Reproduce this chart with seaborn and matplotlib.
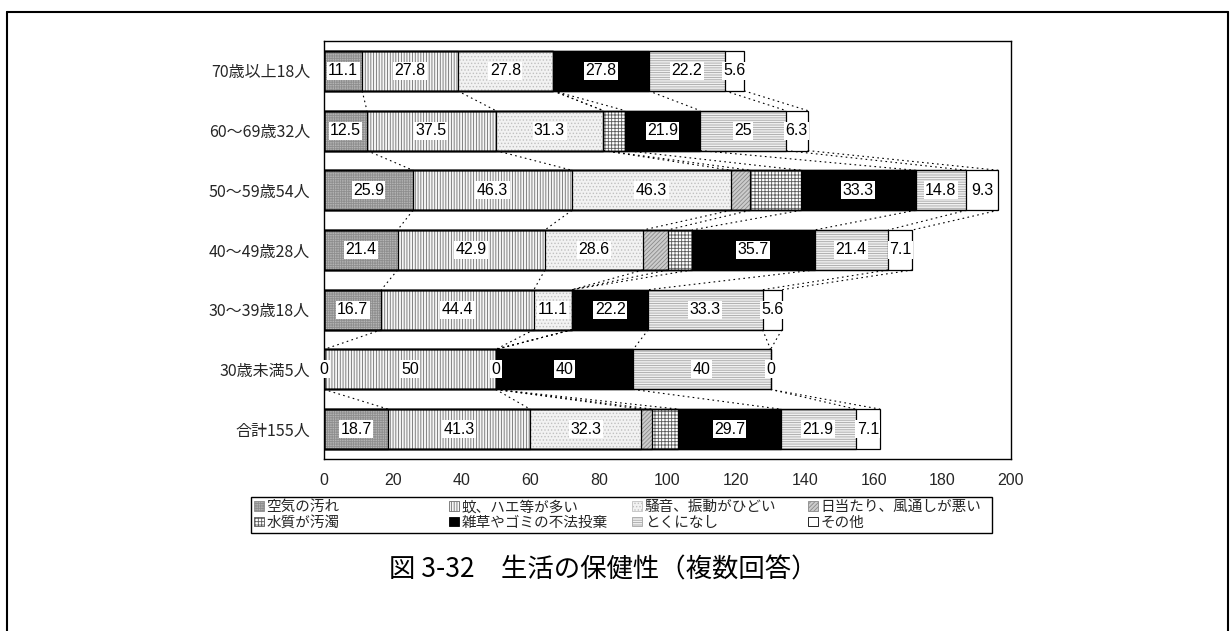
import numpy as np
import matplotlib
matplotlib.use("Agg")
import matplotlib.pyplot as plt
import matplotlib.patches as mpatches
from matplotlib.lines import Line2D
import seaborn as sns

# rows, top to bottom
groups = ['70歳以上18人', '60～69歳32人', '50～59歳54人', '40～49歳28人',
          '30～39歳18人', '30歳未満5人', '合計155人']

series_names = ['空気の汚れ', '蚊、ハエ等が多い', '騒音、振動がひどい', '日当たり、風通しが悪い',
                '水質が汚濁', '雑草やゴミの不法投棄', 'とくになし', 'その他']

air = [11.1, 12.5, 25.9, 21.4, 16.7, 0, 18.7]
mosquito = [27.8, 37.5, 46.3, 42.9, 44.4, 50, 41.3]
noise = [27.8, 31.3, 46.3, 28.6, 11.1, 0, 32.3]
sunlight = [np.nan, np.nan, 5.6, 7.1, np.nan, np.nan, 3.2]
water = [np.nan, 6.3, 14.8, 7.1, np.nan, np.nan, 7.7]
weeds = [27.8, 21.9, 33.3, 35.7, 22.2, 40, 29.7]
nothing = [22.2, 25, 14.8, 21.4, 33.3, 40, 21.9]
other = [5.6, 6.3, 9.3, 7.1, 5.6, 0, 7.1]

series = [air, mosquito, noise, sunlight, water, weeds, nothing, other]
labelled = [True, True, True, False, False, True, True, True]

# look of each series: facecolor, hatch, hatch colour
styles = [
    ('#b4b4b4', '+++++++', '#8e8e8e'),
    ('#f6f6f6', '||||||', '#6e6e6e'),
    ('#f2f2f2', '.....', '#c0c0c0'),
    ('#cccccc', '////////', '#8a8a8a'),
    ('white', '+++++', '#5a5a5a'),
    ('black', None, 'black'),
    ('#f0f0f0', '-------', '#a6a6a6'),
    ('white', None, 'white'),
]

sns.set_style('white')
plt.rcParams['font.family'] = ['Noto Sans CJK JP', 'DejaVu Sans']
plt.rcParams['hatch.linewidth'] = 0.6

fig = plt.figure(figsize=(12.32, 6.31), dpi=100)
ax = fig.add_axes([324 / 1232, 1 - 459 / 631, 687 / 1232, 418 / 631])

vals = np.nan_to_num(np.array(series, dtype=float))
cum = np.cumsum(vals, axis=0)
bar_w = 0.67

# overdraw cumulative bars, longest first
for k in range(len(series) - 1, -1, -1):
    fc, hatch, hc = styles[k]
    sns.barplot(x=cum[k], y=groups, orient='h', color=fc, saturation=1,
                hatch=hatch, edgecolor=hc, linewidth=0.5, width=bar_w,
                errorbar=None, ax=ax)
# black outlines of every segment
for k in range(len(series)):
    sns.barplot(x=cum[k], y=groups, orient='h', color='black', fill=False,
                linewidth=0.9, width=bar_w, errorbar=None, ax=ax)

# series lines between neighbouring bars
for i in range(len(groups) - 1):
    for k in range(len(series)):
        ax.plot([cum[k][i], cum[k][i + 1]], [i + bar_w / 2, i + 1 - bar_w / 2],
                color='black', lw=0.8, ls=(0, (1.5, 3)), zorder=1)

num_font = ['Liberation Sans Narrow', 'Liberation Sans', 'DejaVu Sans']
for k, s in enumerate(series):
    if not labelled[k]:
        continue
    for i, v in enumerate(s):
        if np.isnan(v):
            continue
        xc = cum[k][i] - v / 2
        ax.text(xc, i, f'{v:g}', ha='center', va='center', fontsize=11.5,
                family=num_font, color='black', zorder=5,
                bbox=dict(facecolor='white', edgecolor='none', pad=1))

ax.set_xlim(0, 200)
ax.set_ylim(len(groups) - 0.5, -0.5)
ax.set_xticks(range(0, 201, 20))
ax.set_xticklabels([str(t) for t in range(0, 201, 20)], family=num_font, fontsize=11.5)
ax.set_xlabel('')
ax.set_ylabel('')
ax.tick_params(axis='x', direction='in', length=4, width=0.8, pad=10, color='black')
ax.tick_params(axis='y', length=0, pad=10, labelsize=11.5)
for sp in ax.spines.values():
    sp.set_visible(True)
    sp.set_color('black')
    sp.set_linewidth(1)

# legend: frame plus one column at a time, row-major like the original
handles = [mpatches.Patch(facecolor=fc, hatch=h, edgecolor=('black' if hc == 'white' else hc), lw=0.6)
           for fc, h, hc in styles]
fig.add_artist(mpatches.Rectangle((251 / 1232, 1 - 533 / 631), 741 / 1232, 36 / 631,
                                  transform=fig.transFigure, facecolor='white',
                                  edgecolor='black', lw=1))
col_x = [252, 447, 630, 806]
for c, x0 in enumerate(col_x):
    idx = [c, c + 4]
    lg = fig.legend([handles[j] for j in idx], [series_names[j] for j in idx],
                    loc='upper left', bbox_to_anchor=(x0 / 1232, 1 - 498 / 631),
                    fontsize=10.5, frameon=False, borderpad=0.15, labelspacing=0.1,
                    handlelength=0.65, handleheight=0.65, handletextpad=0.2,
                    borderaxespad=0)

fig.text(0.49, 1 - 570 / 631, '図 3-32　生活の保健性（複数回答）', ha='center', va='center',
         fontsize=19, color='black')

# outer frame
for xs, ys in [([7, 7], [-5, 619]), ([7, 1228], [619, 619]), ([1228, 1228], [619, -5])]:
    fig.add_artist(Line2D([x / 1232 for x in xs], [y / 631 for y in ys],
                          color='black', lw=1.5, transform=fig.transFigure))

fig.savefig('out.png', dpi=100)
